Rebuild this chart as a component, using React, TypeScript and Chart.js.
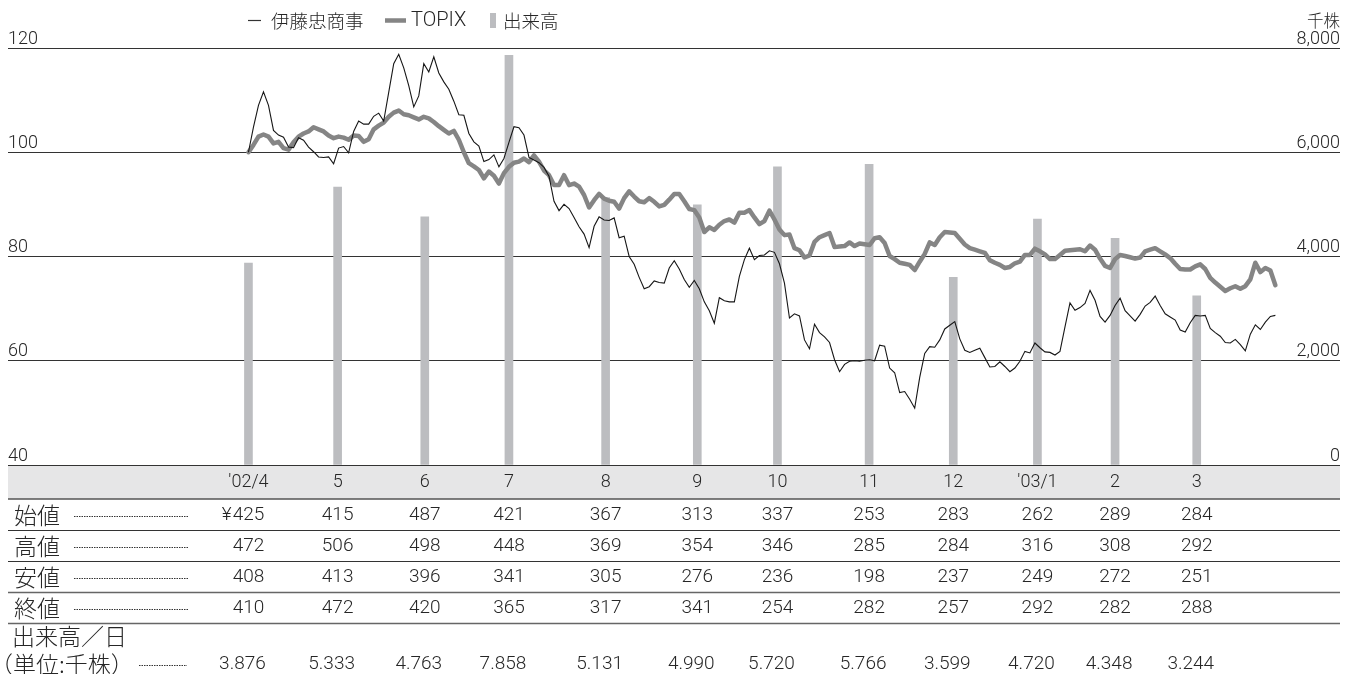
import React, { useEffect, useRef } from 'react';
import { Chart, registerables } from 'chart.js';

Chart.register(...registerables);

// ---- data ----
const months = ["'02/4", '5', '6', '7', '8', '9', '10', '11', '12', "'03/1", '2', '3'];
// position of each month on the sample-index axis (same axis as the price series)
const monthIndex = [0, 17.8, 35.2, 52, 71.3, 89.6, 105.6, 123.9, 140.7, 157.5, 173, 189.3];
const volume = [3876, 5333, 4763, 7858, 5131, 4990, 5720, 5766, 3599, 4720, 4348, 3244];
const openPrice = [425, 415, 487, 421, 367, 313, 337, 253, 283, 262, 289, 284];
const highPrice = [472, 506, 498, 448, 369, 354, 346, 285, 284, 316, 308, 292];
const lowPrice = [408, 413, 396, 341, 305, 276, 236, 198, 237, 249, 272, 251];
const closePrice = [410, 472, 420, 365, 317, 341, 254, 282, 257, 292, 282, 288];

const leftTicks = [40, 60, 80, 100, 120];
const rightTicks = [0, 2000, 4000, 6000, 8000];

// indexed price series (start = 100)
const itochu = [
  100, 104.8, 109, 111.6, 109, 104.2, 103.3, 102.9, 101, 100.9,
  102.8, 102.3, 101, 100.1, 99.1, 99, 99.1, 97.8, 100.8, 101.1,
  99.9, 104, 106, 105.4, 105.4, 106.9, 107.5, 106, 111.5, 117,
  118.8, 116.2, 112.8, 108.7, 110.8, 117, 115.4, 118.3, 115.2, 113.5,
  112.1, 109.8, 107.2, 107.1, 103.6, 102, 101.2, 98.2, 98.6, 99.5,
  97.2, 98.8, 101.9, 104.9, 104.7, 103.3, 99, 98.5, 98, 97.1,
  95.4, 90.6, 88.8, 90, 89.2, 87.5, 85.7, 84.3, 81.7, 85.8,
  87.6, 87, 86.9, 87.4, 83.6, 83.9, 80, 78.5, 76, 73.8,
  74.2, 75.3, 75, 74.9, 77.8, 79.2, 77.6, 75.6, 74.1, 75.4,
  73.8, 71.3, 69.6, 67.2, 72.1, 71.5, 71.3, 71.3, 76.2, 79.4,
  81.6, 79.4, 80.2, 80.3, 81.1, 80.8, 78.6, 74.9, 68.2, 69,
  68.6, 64, 62.3, 67, 65.4, 64.6, 63.5, 60.2, 57.9, 59.3,
  59.9, 60, 59.9, 60.1, 60.2, 60, 63, 62.8, 58.6, 57.7,
  53.9, 54.1, 52.6, 50.9, 56.8, 61.4, 62.7, 62.6, 64, 66.1,
  66.8, 67.5, 64.2, 62, 61.6, 62, 62.4, 60.6, 58.8, 58.9,
  59.8, 58.9, 57.9, 58.6, 59.9, 61.8, 61.5, 63.4, 62.5, 61.7,
  61.6, 61.1, 61.8, 66.5, 71.1, 69.7, 70.2, 71, 73.5, 71.6,
  68.5, 67.4, 68.7, 70.6, 72, 69.6, 68.6, 67.6, 68.9, 70.5,
  71.2, 72.4, 70.6, 69, 68.4, 67.8, 65.9, 65.5, 67.3, 68.7,
  68.6, 68.7, 66.2, 65.4, 64.7, 63.5, 63.4, 64.1, 63.1, 61.9,
  65.1, 66.9, 66, 67.4, 68.5, 68.7,
];

const topix = [
  100, 101.4, 103, 103.4, 103, 101.7, 102, 100.8, 100.5, 101.9,
  103, 103.6, 104, 104.8, 104.4, 104, 103.2, 102.7, 103, 102.8,
  102.4, 103.2, 103.1, 102, 102.5, 104.4, 105.1, 105.7, 106.8, 107.6,
  108, 107.3, 107.1, 106.7, 106.3, 106.8, 106.5, 105.8, 105, 104.3,
  103.6, 104.1, 102.4, 100, 97.9, 97.3, 96.6, 95, 96.3, 95.5,
  94, 96, 97.2, 98, 98.2, 98.8, 98.1, 99.4, 98.2, 96.5,
  95.6, 93.7, 93.7, 95.6, 93.7, 94, 93.4, 91.8, 89.4, 90.8,
  92, 91.1, 90.7, 90.5, 89.2, 91.2, 92.5, 91.5, 90.6, 90.4,
  91.2, 90.5, 89.6, 89.9, 90.9, 92, 92, 90.6, 89.1, 88.9,
  87.5, 84.7, 85.6, 85.1, 86.1, 86.8, 87.1, 86.5, 88.4, 88.4,
  88.9, 87.5, 86.2, 86.8, 88.8, 87.1, 85.2, 84.1, 84.2, 81.6,
  81.2, 79.8, 80.2, 82.8, 83.7, 84.1, 84.5, 81.8, 81.9, 82,
  82.7, 82, 82.5, 82.35, 82.2, 83.5, 83.7, 82.6, 80.1, 79.5,
  78.8, 78.6, 78.4, 77.4, 79, 80.5, 82.7, 82.2, 83.7, 84.7,
  84.6, 84.5, 83.4, 82.3, 81.6, 81.3, 81, 80.7, 79.3, 78.8,
  78.4, 77.8, 78, 78.7, 79, 80.3, 80.3, 81.5, 81, 80.4,
  79.5, 79.5, 80.3, 81.1, 81.2, 81.3, 81.4, 81, 82.1, 81.3,
  79.6, 78.2, 77.8, 79.5, 80.3, 80.1, 79.85, 79.6, 79.8, 81,
  81.3, 81.6, 81, 80.4, 79.7, 78.6, 77.6, 77.5, 77.5, 78.1,
  78.5, 77.6, 75.9, 75, 74.2, 73.4, 73.9, 74.3, 73.8, 74.3,
  75.6, 78.8, 77, 77.8, 77.3, 74.5,
];

// ---- styles ----
const TEXT = '#262626';
const LATIN = "Roboto, 'Liberation Sans', Arial, 'Noto Sans CJK JP', sans-serif";
const CJK = "'Noto Sans CJK JP', 'Liberation Sans', sans-serif";
const BAR_COLOR = '#bcbdc0';
const TOPIX_COLOR = '#858585';
const ITOCHU_COLOR = '#161616';

const tableRows = [
  { label: '始値', values: openPrice, yen: true },
  { label: '高値', values: highPrice, yen: false },
  { label: '安値', values: lowPrice, yen: false },
  { label: '終値', values: closePrice, yen: false },
];

function hline(ctx: CanvasRenderingContext2D, x1: number, x2: number, y: number) {
  ctx.beginPath();
  ctx.moveTo(x1, y);
  ctx.lineTo(x2, y);
  ctx.stroke();
}

const tablePlugin = {
  id: 'stockTable',
  beforeDraw(chart: any) {
    const { ctx, chartArea } = chart;
    ctx.save();
    ctx.fillStyle = '#e6e6e7';
    ctx.fillRect(chartArea.left, chartArea.bottom, chartArea.right - chartArea.left, 34);
    ctx.restore();
  },
  afterDraw(chart: any) {
    const { ctx, chartArea, scales } = chart;
    const xs = scales.x;
    const L = chartArea.left;
    const R = chartArea.right;
    const B = chartArea.bottom;
    ctx.save();
    ctx.textBaseline = 'middle';

    // ---- legend ----
    ctx.strokeStyle = '#333';
    ctx.lineWidth = 1.2;
    hline(ctx, 248, 261, 20.5);
    ctx.fillStyle = TEXT;
    ctx.textAlign = 'left';
    ctx.font = `300 18.5px ${CJK}`;
    ctx.fillText('伊藤忠商事', 271, 21);
    ctx.strokeStyle = TOPIX_COLOR;
    ctx.lineWidth = 4.5;
    hline(ctx, 385, 406, 20.5);
    ctx.font = `300 20px ${LATIN}`;
    ctx.fillText('TOPIX', 411, 21);
    ctx.fillStyle = BAR_COLOR;
    ctx.fillRect(490, 13, 6, 15);
    ctx.fillStyle = TEXT;
    ctx.font = `300 18.5px ${CJK}`;
    ctx.fillText('出来高', 503, 21);

    // unit
    ctx.textAlign = 'right';
    ctx.font = `300 16.5px ${CJK}`;
    ctx.fillText('千株', R, 21);

    // ---- month labels in band ----
    ctx.textAlign = 'center';
    ctx.font = `300 18px ${LATIN}`;
    months.forEach((m, i) => {
      ctx.fillText(m, xs.getPixelForValue(monthIndex[i]), B + 17);
    });

    // ---- table ----
    const rowTop = B + 34;
    const rowH = 31;
    ctx.strokeStyle = '#555';
    ctx.lineWidth = 1.6;
    hline(ctx, L, R, rowTop);

    tableRows.forEach((row, r) => {
      const cy = rowTop + rowH * r + 16;
      ctx.fillStyle = TEXT;
      ctx.textAlign = 'left';
      ctx.font = `300 23px ${CJK}`;
      ctx.fillText(row.label, 14, cy);
      // leader
      ctx.strokeStyle = '#333';
      ctx.lineWidth = 1;
      ctx.setLineDash([1.5, 1]);
      hline(ctx, 74, 188, Math.round(cy + 1) + 0.5);
      ctx.setLineDash([]);
      // values
      ctx.font = `300 19px ${LATIN}`;
      row.values.forEach((v, i) => {
        const px = xs.getPixelForValue(monthIndex[i]);
        const s = String(v);
        ctx.textAlign = 'center';
        ctx.fillText(s, px, cy);
        if (row.yen && i === 0) {
          const w = ctx.measureText(s).width;
          ctx.textAlign = 'right';
          ctx.fillText('¥', px - w / 2 - 1, cy);
        }
      });
      const ly = rowTop + rowH * (r + 1);
      if (r >= 2) {
        ctx.strokeStyle = '#666';
        ctx.lineWidth = 1.6;
      } else {
        ctx.strokeStyle = '#333';
        ctx.lineWidth = 1;
      }
      hline(ctx, L, R, Math.round(ly) + 0.5);
    });

    // volume rows
    const vy1 = rowTop + rowH * 4 + 13;
    const vy2 = vy1 + 28;
    ctx.fillStyle = TEXT;
    ctx.textAlign = 'left';
    ctx.font = `300 23px ${CJK}`;
    ctx.fillText('出来高／日', 12, vy1);
    ctx.fillText('（単位:千株）', -10, vy2);
    ctx.strokeStyle = '#333';
    ctx.lineWidth = 1;
    ctx.setLineDash([1.5, 1]);
    hline(ctx, 139, 187, Math.round(vy2 + 1) + 0.5);
    ctx.setLineDash([]);
    ctx.font = `300 19px ${LATIN}`;
    ctx.textAlign = 'center';
    volume.forEach((v, i) => {
      const px = xs.getPixelForValue(monthIndex[i]) - 6;
      ctx.fillText((v / 1000).toFixed(3), px, vy2);
    });

    ctx.restore();
  },
};

export default function App() {
  const ref = useRef<HTMLCanvasElement>(null);

  useEffect(() => {
    if (!ref.current) return;
    const itochuData = itochu.map((v, i) => ({ x: i, y: v }));
    const topixData = topix.map((v, i) => ({ x: i, y: v }));
    const volData = volume.map((v, i) => ({ x: monthIndex[i], y: v }));

    const chart = new Chart(ref.current, {
      type: 'bar',
      data: {
        datasets: [
          {
            type: 'line',
            label: '伊藤忠商事',
            data: itochuData,
            borderColor: ITOCHU_COLOR,
            borderWidth: 1.1,
            pointRadius: 0,
            tension: 0,
            yAxisID: 'y',
            order: 0,
          } as any,
          {
            type: 'line',
            label: 'TOPIX',
            data: topixData,
            borderColor: TOPIX_COLOR,
            borderWidth: 4.5,
            borderJoinStyle: 'round',
            borderCapStyle: 'round',
            pointRadius: 0,
            tension: 0,
            yAxisID: 'y',
            order: 1,
          } as any,
          {
            type: 'bar',
            label: '出来高',
            data: volData,
            backgroundColor: BAR_COLOR,
            borderWidth: 0,
            barThickness: 8,
            yAxisID: 'y1',
            order: 2,
          } as any,
        ],
      },
      options: {
        responsive: false,
        animation: false,
        devicePixelRatio: 1,
        layout: { padding: { left: 8, right: 13, top: 48, bottom: 209 } },
        plugins: {
          legend: { display: false },
          tooltip: { enabled: false },
        },
        scales: {
          x: {
            type: 'linear',
            display: false,
            offset: false,
            min: -48,
            max: 217.9,
          },
          y: {
            type: 'linear',
            position: 'left',
            min: leftTicks[0],
            max: leftTicks[leftTicks.length - 1],
            afterBuildTicks: (s: any) => {
              s.ticks = leftTicks.map((v) => ({ value: v }));
            },
            border: { display: false },
            grid: { color: '#333', lineWidth: 1, drawTicks: false },
            ticks: {
              mirror: true,
              padding: 0,
              labelOffset: -9,
              color: TEXT,
              font: { family: LATIN, size: 18, weight: '300' },
            },
          },
          y1: {
            type: 'linear',
            position: 'right',
            min: rightTicks[0],
            max: rightTicks[rightTicks.length - 1],
            afterBuildTicks: (s: any) => {
              s.ticks = rightTicks.map((v) => ({ value: v }));
            },
            border: { display: false },
            grid: { drawOnChartArea: false, drawTicks: false },
            ticks: {
              mirror: true,
              padding: 0,
              labelOffset: -9,
              color: TEXT,
              font: { family: LATIN, size: 18, weight: '300' },
              callback: (v: any) => Number(v).toLocaleString('en-US'),
            },
          },
        },
      },
      plugins: [tablePlugin],
    } as any);

    return () => chart.destroy();
  }, []);

  return (
    <div style={{ position: 'absolute', left: 0, top: 0, width: 1353, height: 674, background: '#fff' }}>
      <canvas ref={ref} width={1353} height={674} style={{ display: 'block', width: 1353, height: 674 }} />
    </div>
  );
}
